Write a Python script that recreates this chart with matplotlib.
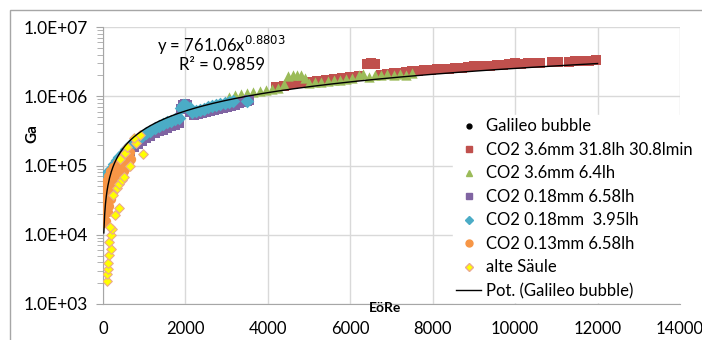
import numpy as np
import matplotlib
matplotlib.use('Agg')
import matplotlib.pyplot as plt
from matplotlib.patches import Rectangle
from matplotlib.lines import Line2D

### Data ###

# fit reported on the chart: y = a * x^b
fit_a = 761.06
fit_b = 0.8803
fit_x_range = (20, 12000)

# Galileo bubble points sit underneath the coloured series
galileo_x = [260, 1050, 1550, 2450, 3500, 5000, 7050, 9000, 11050]
galileo_y = [1.05e5, 2.95e5, 4.2e5, 6.6e5, 8.5e5, 1.55e6, 2.0e6, 2.75e6, 3.1e6]

red_x = [4200, 4400, 4600, 4800, 5000, 5200, 5400, 5600, 5800, 6000, 6200,
         6400, 6500, 6600, 6750, 6900, 7050, 7200, 7350, 7500, 7650, 7800,
         7950, 8100, 8250, 8400, 8550, 8700, 8850, 9000, 9100, 9250, 9400,
         9550, 9700, 9850, 10000, 10150, 10300, 10450, 10600, 10900, 11050,
         11300, 11450, 11650, 11800, 11950]
red_y = [1.37e6, 1.42e6, 1.48e6, 1.53e6, 1.59e6, 1.65e6, 1.70e6, 1.76e6,
         1.82e6, 1.87e6, 1.93e6, 2.9e6, 3.0e6, 2.9e6, 2.05e6, 2.1e6, 2.15e6,
         2.2e6, 2.24e6, 2.28e6, 2.32e6, 2.36e6, 2.4e6, 2.44e6, 2.47e6, 2.51e6,
         2.55e6, 2.6e6, 2.63e6, 2.75e6, 2.72e6, 2.72e6, 2.76e6, 2.8e6, 2.84e6,
         2.88e6, 3.05e6, 2.95e6, 2.98e6, 3.0e6, 3.03e6, 3.08e6, 3.1e6, 3.15e6,
         3.18e6, 3.22e6, 3.25e6, 3.32e6]

green_x = [3050, 3200, 3350, 3500, 3650, 3800, 3950, 4100, 4250, 4400, 4500,
           4600, 4700, 4800, 4900, 5000, 5150, 5300, 5450, 5600, 5750, 5900,
           6050, 6200, 6300, 6450, 6600, 6750, 6900, 7050, 7200, 7350, 7500]
green_y = [9.9e5, 1.04e6, 1.08e6, 1.12e6, 1.16e6, 1.2e6, 1.24e6, 1.29e6,
           1.33e6, 1.5e6, 1.95e6, 2.05e6, 2.0e6, 2.0e6, 1.85e6, 1.55e6, 1.58e6,
           1.62e6, 1.66e6, 1.7e6, 1.74e6, 1.78e6, 1.85e6, 2.0e6, 2.1e6, 1.9e6,
           2.0e6, 2.05e6, 2.12e6, 2.0e6, 2.1e6, 2.0e6, 2.15e6]

purple_x = [60, 90, 130, 180, 240, 310, 390, 470, 560, 650, 750, 850, 950,
            1050, 1150, 1250, 1350, 1450, 1550, 1650, 1750, 1850, 1900, 1950,
            2000, 2050, 2100, 2200, 2300, 2400, 2500, 2600, 2700, 2800, 2900,
            3000, 3100, 3200, 3300, 3400, 3500, 3550]
purple_y = [3.0e4, 3.8e4, 5.0e4, 6.3e4, 7.6e4, 9.0e4, 1.05e5, 1.22e5, 1.4e5,
            1.6e5, 1.82e5, 2.05e5, 2.27e5, 2.5e5, 2.7e5, 2.9e5, 3.1e5, 3.3e5,
            3.5e5, 3.7e5, 3.9e5, 4.1e5, 6.5e5, 7.5e5, 7.8e5, 7.4e5, 6.0e5,
            5.3e5, 5.5e5, 5.7e5, 5.9e5, 6.1e5, 6.4e5, 6.6e5, 6.8e5, 7.0e5,
            7.3e5, 7.6e5, 7.9e5, 8.2e5, 8.6e5, 8.8e5]

teal_x = [10, 20, 35, 55, 80, 110, 150, 200, 260, 330, 400, 480, 560, 650,
          750, 850, 950, 1050, 1150, 1250, 1350, 1450, 1550, 1650, 1750, 1850,
          1900, 1950, 2000, 2050, 2100, 2150, 2250, 2350, 2450, 2550, 2650,
          2750, 2850, 2950, 3050, 3150, 3500]
teal_y = [3.5e4, 4.2e4, 5.0e4, 6.0e4, 7.0e4, 7.8e4, 8.4e4, 9.0e4, 1.05e5,
          1.2e5, 1.33e5, 1.52e5, 1.72e5, 1.95e5, 2.2e5, 2.45e5, 2.7e5, 2.95e5,
          3.2e5, 3.45e5, 3.7e5, 3.95e5, 4.2e5, 4.45e5, 4.65e5, 4.9e5, 6.8e5,
          7.6e5, 7.4e5, 7.0e5, 6.8e5, 6.0e5, 6.2e5, 6.4e5, 6.6e5, 6.9e5,
          7.2e5, 7.5e5, 7.8e5, 8.0e5, 8.2e5, 8.4e5, 8.5e5]

orange_x = [5, 5, 8, 15, 25, 40, 70, 110, 170, 250, 340, 430, 520, 580,
            40, 50, 60, 80, 110, 150, 200, 260, 320, 400, 480, 560, 620, 660,
            80, 110, 140, 190, 250, 320, 390, 460, 520, 580, 640, 680]
orange_y = [1.5e4, 2.0e4, 2.6e4, 3.3e4, 4.1e4, 5.0e4, 6.0e4, 7.0e4, 8.2e4,
            9.5e4, 1.1e5, 1.25e5, 1.4e5, 1.55e5,
            1.5e4, 2.0e4, 2.6e4, 3.3e4, 4.1e4, 5.0e4, 6.0e4, 7.0e4, 8.2e4,
            9.5e4, 1.1e5, 1.25e5, 1.4e5, 1.55e5,
            1.6e4, 2.1e4, 2.6e4, 3.3e4, 4.1e4, 5.0e4, 6.0e4, 7.0e4, 8.2e4,
            9.5e4, 1.1e5, 1.25e5]

yellow_x = [90, 105, 115, 122, 139, 188, 154, 188, 227, 163, 293, 390, 244,
            334, 398, 456, 512, 659, 415, 529, 593, 976, 797, 748, 895]
yellow_y = [2.15e3, 2.69e3, 3.17e3, 3.87e3, 5.1e3, 6.2e3, 7.9e3, 1.0e4,
            1.21e4, 1.28e4, 1.91e4, 2.4e4, 3.74e4, 4.7e4, 5.4e4, 6.2e4,
            6.9e4, 9.8e4, 1.24e5, 1.53e5, 1.87e5, 1.45e5, 2.13e5, 2.47e5,
            2.75e5]

labels = ['Galileo bubble', 'CO2 3.6mm 31.8lh 30.8lmin', 'CO2 3.6mm 6.4lh',
          'CO2 0.18mm 6.58lh', 'CO2 0.18mm  3.95lh', 'CO2 0.13mm 6.58lh',
          'alte Säule', 'Pot. (Galileo bubble)']

x_ticks = [0, 2000, 4000, 6000, 8000, 10000, 12000, 14000]
y_ticks = [1e3, 1e4, 1e5, 1e6, 1e7]
y_tick_labels = ['1.0E+03', '1.0E+04', '1.0E+05', '1.0E+06', '1.0E+07']

### Figure ###

plt.rcParams['font.family'] = ['Lato', 'DejaVu Sans']

fig = plt.figure(figsize=(7.02, 3.40), dpi=100)
ax = fig.add_axes([103/702, 1-304/340, 577/702, 277/340])

# outer chart border (cut off on the right and bottom like the reference)
fig.patches.append(Rectangle((10/702, -0.1), 1.2, (330/340)+0.1, transform=fig.transFigure,
                             fill=False, edgecolor='#A6A6A6', linewidth=1.0))

ax.scatter(galileo_x, galileo_y, s=8, c='black', marker='o', zorder=2)
ax.scatter(red_x, red_y, s=50, c='#C0504D', marker='s', linewidths=0, zorder=3)
ax.scatter(green_x, green_y, s=55, c='#9BBB59', marker='^', linewidths=0, zorder=4)
ax.scatter(purple_x, purple_y, s=50, c='#8064A2', marker='s', linewidths=0, zorder=5)
ax.scatter(teal_x, teal_y, s=48, c='#4BACC6', marker='D', linewidths=0, zorder=6)
ax.scatter(orange_x, orange_y, s=45, c='#F79646', marker='o', linewidths=0, zorder=7)
ax.scatter(yellow_x, yellow_y, s=24, c='#FFFF00', marker='D', edgecolors='#EBA98F',
           linewidths=0.8, zorder=8)

xf = np.linspace(fit_x_range[0], fit_x_range[1], 600)
ax.plot(xf, fit_a * xf ** fit_b, color='black', linewidth=1.0, zorder=9)

ax.set_yscale('log')
ax.set_xlim(0, 14000)
ax.set_ylim(1e3, 1e7)
ax.set_xticks(x_ticks)
ax.set_xticklabels([str(t) for t in x_ticks], fontsize=12)
ax.set_yticks(y_ticks)
ax.set_yticklabels(y_tick_labels, fontsize=12.5)
ax.yaxis.set_minor_locator(matplotlib.ticker.LogLocator(base=10, subs=np.arange(2, 10)))
ax.yaxis.set_minor_formatter(matplotlib.ticker.NullFormatter())
ax.tick_params(axis='y', which='major', length=5, color='#A6A6A6', pad=6)
ax.tick_params(axis='y', which='minor', length=4, color='#A6A6A6')
ax.tick_params(axis='x', length=0, pad=12)

ax.grid(True, which='major', color='#D9D9D9', linewidth=1.0)
ax.set_axisbelow(True)
for s in ['top', 'right']:
    ax.spines[s].set_visible(False)
ax.spines['left'].set_color('#A6A6A6')
ax.spines['bottom'].set_color('#A6A6A6')

fig.text(32/702, 1-134/340, 'Ga', fontsize=11, fontweight='bold', rotation=90,
         ha='center', va='center')
fig.text(385/702, 1-308/340, 'EöRe', fontsize=10, fontweight='bold',
         ha='center', va='center')

fig.text(221/702, 1-45/340, r'y = 761.06x$^{0.8803}$', fontsize=12, ha='center', va='center')
fig.text(222/702, 1-65/340, 'R² = 0.9859', fontsize=12, ha='center', va='center')

### Legend ###

handles = [
    Line2D([], [], ls='none', marker='o', color='black', markersize=3.5),
    Line2D([], [], ls='none', marker='s', color='#C0504D', markersize=5),
    Line2D([], [], ls='none', marker='^', color='#9BBB59', markersize=5),
    Line2D([], [], ls='none', marker='s', color='#8064A2', markersize=5),
    Line2D([], [], ls='none', marker='D', color='#4BACC6', markersize=4),
    Line2D([], [], ls='none', marker='o', color='#F79646', markersize=5),
    Line2D([], [], ls='none', marker='D', markerfacecolor='#FFFF00',
           markeredgecolor='#EBA98F', markersize=4),
    Line2D([], [], color='black', linewidth=1.0),
]
leg = ax.legend(handles, labels, loc='upper left', bbox_to_anchor=(453/702, 1-115/340),
                bbox_transform=fig.transFigure, frameon=True, fancybox=False,
                fontsize=12, handlelength=1.5, handletextpad=0.3, labelspacing=0.45,
                borderpad=0.2, borderaxespad=0)
leg.get_frame().set_facecolor('white')
leg.get_frame().set_edgecolor('white')
leg.get_frame().set_alpha(1)
leg.set_zorder(20)

fig.savefig('out.png', dpi=100)
plt.close()
